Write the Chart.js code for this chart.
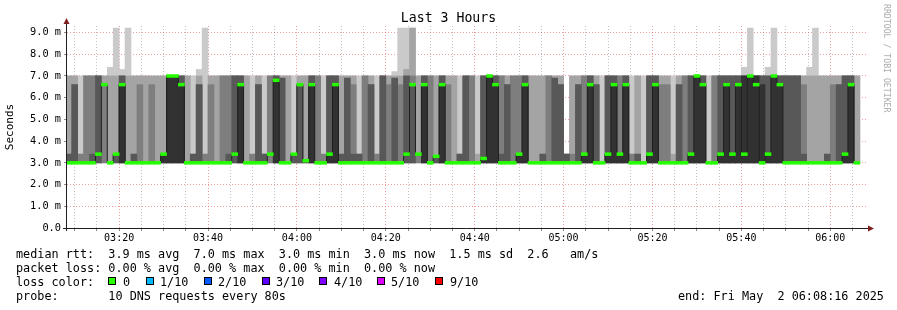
<!DOCTYPE html>
<html>
<head>
<meta charset="utf-8">
<title>Last 3 Hours</title>
<script src="https://cdn.jsdelivr.net/npm/chart.js@4.4.1/dist/chart.umd.min.js"></script>
<style>
  body { margin: 0; background: #fff; }
  #wrap { position: relative; width: 897px; height: 310px; font-family: 'DejaVu Sans Mono', monospace; color: #000; overflow: hidden; }
  canvas { position: absolute; left: 0; top: 0; }
  .title { position: absolute; left: 0; width: 897px; top: 10px; text-align: center; font-size: 13.2px; line-height: 16px; }
  .wm { position: absolute; left: 892px; top: 4px; transform-origin: 0 0; transform: rotate(90deg); font-size: 8.2px; line-height: 10px; color: #aaa; white-space: pre; }
  .txt { position: absolute; white-space: pre; font-size: 11.8px; line-height: 14px; }
  .sq { position: absolute; width: 8px; height: 8px; border: 1px solid #000; box-sizing: border-box; }
</style>
</head>
<body>
<div id="wrap">
  <canvas id="smoke" width="897" height="310"></canvas>
  <div class="title">Last 3 Hours</div>
  <div class="wm">RRDTOOL / TOBI OETIKER</div>
  <div id="legend"></div>
</div>
<script>
// time of the first 80 s step (centre), seconds since midnight
const firstStep = 11320;
const stepSeconds = 80;
const viewStart = 11296;   // 03:08:16
const viewEnd = 22096;     // 06:08:16
const smokeFloor = 3.0;

// top of each smoke band (ms), band 1 = outermost / lightest
const smoke1 = [
  7, 7, 7, 7, 7, 7, 7, 7.4, 9.2, 7.3,
  9.2, 7, 7, 7, 7, 7, 7, 7, 7, 7,
  7, 7, 7.3, 9.2, 7, 7, 7, 7, 7, 7,
  7, 7, 7, 7, 7, 7, 7, 7, 7, 7,
  7, 7, 7, 7, 7, 7, 7, 7, 7, 7,
  7, 7, 7, 7, 7, 7.2, 9.2, 9.2, 9.2, 7,
  7, 7, 7, 7, 7, 7, 7, 7, 7, 7,
  7, 7, 7, 7, 7, 7, 7, 7, 7, 7,
  7, 7, 7, 7, 3.4, 7, 7, 7, 7, 7,
  7, 7, 7, 7, 7, 7, 7, 7, 7, 7,
  7, 7, 7, 7, 7, 7, 7, 7, 7, 7,
  7, 7, 7, 7, 7.4, 9.2, 7, 7, 7.4, 9.2,
  7, 7, 7, 7, 7, 7.4, 9.2, 7, 7, 7,
  7, 7, 7, 7
];
const smoke2 = [
  7, 7, 3.4, 7, 7, 7, 7, 7, 7, 7,
  7, 7, 7, 7, 7, 7, 7, 7, 7, 7,
  7, 3.4, 7, 3.4, 7, 7, 7, 7, 7, 7,
  7, 3.4, 7, 3.4, 7, 7, 7, 7, 3.4, 7,
  7, 7, 7, 3.4, 7, 7, 7, 7, 7, 3.4,
  7, 7, 3.4, 7, 7, 7, 7, 7.3, 9.2, 7,
  7, 7, 7, 7, 7, 7, 3.4, 7, 7, 3.4,
  7, 7, 7, 7, 7, 7, 7, 7, 7, 7,
  7, 7, 7, 7, 3.4, 7, 7, 7, 7, 7,
  3, 7, 7, 7, 7, 3.4, 7, 3, 7, 7,
  7, 7, 3.4, 7, 7, 7, 7, 7, 3, 7,
  7, 7, 7, 7, 7, 7, 7, 7, 7, 7,
  7, 7, 7, 7, 7, 7, 7, 7, 7, 7,
  7, 7, 7, 7
];
const smoke3 = [
  3.4, 6.6, 3.4, 7, 7, 7, 6.6, 3, 3.4, 7,
  3, 3.4, 6.6, 3, 6.6, 3, 3.4, 7, 7, 7,
  3, 3.4, 6.6, 3.4, 6.6, 3, 7, 7, 7, 7,
  3, 3.4, 6.6, 3.4, 7, 7, 6.9, 3, 3.4, 6.6,
  3.1, 7, 7, 3.4, 7, 7, 3.4, 6.9, 6.6, 3.4,
  7, 6.6, 3.4, 7, 6.6, 6.9, 6.6, 7, 7, 3.4,
  7, 7, 3.3, 7, 6.6, 3, 3.4, 7, 7, 3,
  7, 7, 7, 7, 6.6, 7, 7, 7, 3, 3,
  3.4, 7, 6.9, 6.6, 3.4, 3.4, 6.6, 7, 7, 6.6,
  3, 7, 7, 7, 7, 3.4, 3.4, 3, 7, 7,
  6.6, 6.6, 3, 6.6, 7, 7, 7, 7, 3, 7,
  7, 7, 7, 7, 7, 7, 7, 7, 7, 7,
  7, 7, 7, 7, 6.6, 3, 3, 3, 3.4, 6.6,
  6.6, 7, 7, 3
];
const smoke4 = [
  3.4, 6.6, 3, 3, 3.4, 7, 3, 3, 3.4, 7,
  3, 3.4, 3, 3, 3, 3, 3.4, 7, 7, 7,
  3, 3.4, 6.6, 3, 3, 3, 3, 3.4, 7, 7,
  3, 3, 6.6, 3.4, 3, 7, 6.9, 3, 3.4, 6.6,
  3.1, 7, 3, 3, 7, 7, 3.4, 6.9, 3.4, 3.4,
  3, 6.6, 3, 7, 3, 6.9, 3, 7, 6.6, 3,
  7, 3, 3.3, 7, 3, 3, 3.4, 7, 3, 3,
  7, 7, 7, 3.4, 6.6, 3, 3.4, 7, 3, 3,
  3.4, 3, 6.9, 6.6, 3.4, 3, 6.6, 3.4, 7, 6.6,
  3, 7, 7, 3.4, 7, 3, 3.4, 3, 7, 7,
  3, 3, 3, 6.6, 3, 7, 7, 7, 3, 3,
  7, 7, 7, 7, 7, 7, 7, 7, 7, 7,
  7, 7, 7, 7, 3.4, 3, 3, 3, 3.4, 3,
  6.6, 7, 7, 3
];
const smoke5 = [
  3, 3, 3, 3, 3, 3, 3, 3, 3, 6.6,
  3, 3, 3, 3, 3, 3, 3.4, 7, 7, 6.6,
  3, 3, 3, 3, 3, 3, 3, 3, 3, 6.6,
  3, 3, 3, 3, 3, 6.8, 3, 3, 3, 3,
  3, 6.6, 3, 3, 3.4, 6.6, 3, 3, 3, 3,
  3, 3, 3, 3, 3, 3, 3, 3, 3, 3,
  6.6, 3, 3, 6.6, 3, 3, 3, 3, 3, 3,
  3.2, 7, 6.6, 3, 3, 3, 3.4, 6.6, 3, 3,
  3, 3, 3, 3, 3, 3, 3, 3.4, 6.6, 3,
  3, 3.4, 6.6, 3.4, 6.6, 3, 3, 3, 3.4, 6.6,
  3, 3, 3, 3, 3, 3.4, 7, 6.6, 3, 3,
  3.4, 6.6, 3.4, 6.6, 7, 7, 7, 6.6, 3.4, 7,
  6.6, 3, 3, 3, 3, 3, 3, 3, 3, 3,
  3, 3.4, 6.6, 3
];
// median rtt per step (ms)
const medianRtt = [
  3, 3, 3, 3, 3, 3.4, 6.6, 3, 3.4, 6.6,
  3, 3, 3, 3, 3, 3, 3.4, 7, 7, 6.6,
  3, 3, 3, 3, 3, 3, 3, 3, 3.4, 6.6,
  3, 3, 3, 3, 3.4, 6.8, 3, 3, 3.4, 6.6,
  3.1, 6.6, 3, 3, 3.4, 6.6, 3, 3, 3, 3,
  3, 3, 3, 3, 3, 3, 3, 3.4, 6.6, 3.4,
  6.6, 3, 3.3, 6.6, 3, 3, 3, 3, 3, 3,
  3.2, 7, 6.6, 3, 3, 3, 3.4, 6.6, 3, 3,
  3, 3, 3, 3, 3, 3, 3, 3.4, 6.6, 3,
  3, 3.4, 6.6, 3.4, 6.6, 3, 3, 3, 3.4, 6.6,
  3, 3, 3, 3, 3, 3.4, 7, 6.6, 3, 3,
  3.4, 6.6, 3.4, 6.6, 3.4, 7, 6.6, 3, 3.4, 7,
  6.6, 3, 3, 3, 3, 3, 3, 3, 3, 3,
  3, 3.4, 6.6, 3
];

const smokeBands = [smoke1, smoke2, smoke3, smoke4, smoke5];
const smokeColors = ['#cacaca', '#a4a4a4', '#7e7e7e', '#585858', '#323232'];

const yTickValues = [0, 0.5, 1, 1.5, 2, 2.5, 3, 3.5, 4, 4.5, 5, 5.5, 6, 6.5, 7, 7.5, 8, 8.5, 9];
const yTickLabels = { 0: '0.0', 1: '1.0 m', 2: '2.0 m', 3: '3.0 m', 4: '4.0 m', 5: '5.0 m', 6: '6.0 m', 7: '7.0 m', 8: '8.0 m', 9: '9.0 m' };
const xGridTimes = [11400, 11700, 12000, 12300, 12600, 12900, 13200, 13500, 13800, 14100, 14400, 14700,
  15000, 15300, 15600, 15900, 16200, 16500, 16800, 17100, 17400, 17700, 18000, 18300, 18600, 18900,
  19200, 19500, 19800, 20100, 20400, 20700, 21000, 21300, 21600, 21900];
const xTickLabels = { 12000: '03:20', 13200: '03:40', 14400: '04:00', 15600: '04:20', 16800: '04:40',
  18000: '05:00', 19200: '05:20', 20400: '05:40', 21600: '06:00' };

const statsLines = [
  'median rtt:  3.9 ms avg  7.0 ms max  3.0 ms min  3.0 ms now  1.5 ms sd  2.6   am/s',
  'packet loss: 0.00 % avg  0.00 % max  0.00 % min  0.00 % now',
  'loss color:',
  'probe:       10 DNS requests every 80s'
];
const lossLabels = ['0', '1/10', '2/10', '3/10', '4/10', '5/10', '9/10'];
const lossColors = ['#26ff00', '#00b8ff', '#0059ff', '#5e00ff', '#7e00ff', '#dd00ff', '#ff0000'];
const endLabel = 'end: Fri May  2 06:08:16 2025';

const stepTimes = medianRtt.map((_, j) => firstStep + j * stepSeconds);

// legend block
const legend = document.getElementById('legend');
const rowTop = [247, 261, 275, 289];
statsLines.forEach((line, i) => {
  const d = document.createElement('div');
  d.className = 'txt';
  d.style.left = '16px';
  d.style.top = rowTop[i] + 'px';
  d.textContent = line;
  legend.appendChild(d);
});
const squareX = [108, 146, 203.5, 261.5, 319, 377, 435];
const lossLabelX = [123, 160, 218, 276, 334, 391, 450];
lossLabels.forEach((lbl, i) => {
  const s = document.createElement('div');
  s.className = 'sq';
  s.style.left = squareX[i] + 'px';
  s.style.top = '277px';
  s.style.background = lossColors[i];
  legend.appendChild(s);
  const t = document.createElement('div');
  t.className = 'txt';
  t.style.left = lossLabelX[i] + 'px';
  t.style.top = rowTop[2] + 'px';
  t.textContent = lbl;
  legend.appendChild(t);
});
const endDiv = document.createElement('div');
endDiv.className = 'txt';
endDiv.style.left = '678px';
endDiv.style.top = rowTop[3] + 'px';
endDiv.textContent = endLabel;
legend.appendChild(endDiv);

// datasets
const datasets = [];
smokeBands.forEach((band, k) => {
  datasets.push({
    type: 'bar',
    data: band.map((top, j) => ({ x: stepTimes[j], y: top > smokeFloor ? [smokeFloor, top] : null })),
    backgroundColor: smokeColors[k],
    borderWidth: 0,
    grouped: false,
    barPercentage: 1,
    categoryPercentage: 1,
    order: 10 - k
  });
});
datasets.push({
  type: 'line',
  data: medianRtt.map((m, j) => ({ x: stepTimes[j], y: m })),
  borderColor: '#202020',
  borderWidth: 1,
  pointRadius: 0,
  stepped: 'middle',
  fill: false,
  order: 2
});
datasets.push({
  type: 'bar',
  data: medianRtt.map((m, j) => ({ x: stepTimes[j], y: [m - 0.065, m + 0.065] })),
  backgroundColor: '#26ff00',
  borderWidth: 0,
  grouped: false,
  barPercentage: 1,
  categoryPercentage: 1,
  order: 1
});

const axisArrows = {
  id: 'axisArrows',
  afterDraw(chart) {
    const { ctx, chartArea: a } = chart;
    ctx.save();
    ctx.strokeStyle = '#1f1f1f';
    ctx.lineWidth = 1;
    ctx.beginPath();
    ctx.moveTo(a.left - 4, a.bottom + 0.5);
    ctx.lineTo(a.right + 3, a.bottom + 0.5);
    ctx.moveTo(a.left - 0.5, a.bottom + 3);
    ctx.lineTo(a.left - 0.5, a.top - 3);
    ctx.stroke();
    ctx.fillStyle = '#801f1f';
    ctx.beginPath();
    ctx.moveTo(a.left - 0.5, a.top - 8);
    ctx.lineTo(a.left - 3.5, a.top - 2);
    ctx.lineTo(a.left + 2.5, a.top - 2);
    ctx.closePath();
    ctx.fill();
    ctx.beginPath();
    ctx.moveTo(a.right + 7, a.bottom + 0.5);
    ctx.lineTo(a.right + 1, a.bottom - 2.5);
    ctx.lineTo(a.right + 1, a.bottom + 3.5);
    ctx.closePath();
    ctx.fill();
    ctx.restore();
  }
};

const majorGrid = 'rgba(222, 79, 79, 0.55)';
const minorGrid = 'rgba(143, 143, 143, 0.55)';

new Chart(document.getElementById('smoke'), {
  type: 'bar',
  data: { datasets },
  options: {
    responsive: false,
    animation: false,
    devicePixelRatio: 1,
    layout: { padding: { left: 0, right: 30, top: 26, bottom: 62 } },
    plugins: { legend: { display: false }, tooltip: { enabled: false }, title: { display: false } },
    scales: {
      x: {
        type: 'linear',
        min: viewStart,
        max: viewEnd,
        offset: false,
        z: 1,
        grid: {
          offset: false,
          color: c => (xTickLabels[c.tick.value] ? majorGrid : minorGrid),
          lineWidth: 1,
          tickLength: 3,
          tickColor: 'rgba(60, 60, 60, 0.6)'
        },
        border: { display: false, dash: [1, 2] },
        afterBuildTicks: s => { s.ticks = xGridTimes.map(v => ({ value: v })); },
        afterFit: s => { s.height = 20; },
        ticks: {
          autoSkip: false,
          maxRotation: 0,
          padding: 1,
          color: '#000',
          font: { family: 'DejaVu Sans Mono', size: 10 },
          callback: v => xTickLabels[v] || ''
        }
      },
      y: {
        min: 0,
        max: 9.3,
        z: 1,
        grid: {
          color: c => (yTickLabels[c.tick.value] ? majorGrid : minorGrid),
          lineWidth: 1,
          tickLength: 3,
          tickColor: 'rgba(60, 60, 60, 0.6)'
        },
        border: { display: false, dash: [1, 2] },
        afterBuildTicks: s => { s.ticks = yTickValues.map(v => ({ value: v })); },
        afterFit: s => { s.width = 67; },
        title: {
          display: true,
          text: 'Seconds',
          color: '#000',
          padding: { top: 4, bottom: 0 },
          font: { family: 'DejaVu Sans Mono', size: 11 }
        },
        ticks: {
          padding: 3,
          color: '#000',
          font: { family: 'DejaVu Sans Mono', size: 10.3 },
          callback: v => yTickLabels[v] || ''
        }
      }
    }
  },
  plugins: [axisArrows]
});
</script>
</body>
</html>
